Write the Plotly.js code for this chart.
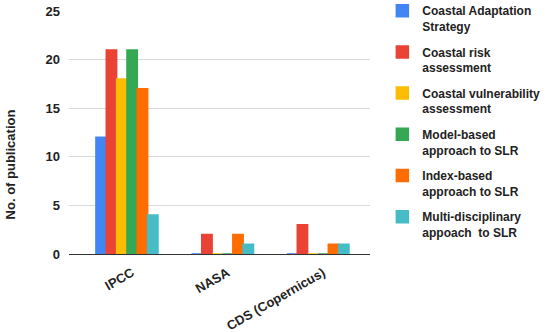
<!DOCTYPE html>
<html><head><meta charset="utf-8">
<script src="https://cdn.plot.ly/plotly-3.0.1.min.js"></script>
<style>html,body{margin:0;padding:0;background:#fff}#chart{width:550px;height:332px}</style>
</head><body><div id="chart"></div>
<script>
const categories = ["IPCC", "NASA", "CDS (Copernicus)"];
const seriesNames = [
  "Coastal Adaptation<br>Strategy",
  "Coastal risk<br>assessment",
  "Coastal vulnerability<br>assessment",
  "Model-based<br>approach to SLR",
  "Index-based<br>approach to SLR",
  "Multi-disciplinary<br>appoach  to SLR"
];
const adaptation = [12, 0, 0];
const risk = [21, 2, 3];
const vulnerability = [18, 0, 0];
const modelBased = [21, 0, 0];
const indexBased = [17, 2, 1];
const multiDisc = [4, 1, 1];
const yTicks = [0, 5, 10, 15, 20, 25];

const seriesValues = [adaptation, risk, vulnerability, modelBased, indexBased, multiDisc];
const colors = ["#4285F4", "#EA4335", "#FBBC04", "#34A853", "#FF6D01", "#46BDC6"];

const traces = seriesValues.map((v, i) => ({
  type: "bar",
  x: categories,
  y: v,
  name: seriesNames[i],
  legendgroup: "g" + i,
  marker: {color: colors[i], line: {color: colors[i], width: 1.5}}
}));

const font = {family: "Liberation Sans, Arial, sans-serif", size: 13, color: "#222"};
const layout = {
  width: 550, height: 332,
  margin: {l: 69, r: 180, t: 11, b: 78, autoexpand: false},
  paper_bgcolor: "#fff", plot_bgcolor: "#fff",
  font: font,
  barmode: "group", bargap: 0.35, bargroupgap: 0,
  showlegend: true,
  legend: {
    x: 1.041, xanchor: "left", y: 1.06, yanchor: "top",
    valign: "top", tracegroupgap: 7, traceorder: "grouped",
    font: {family: font.family, size: 12, color: "#222", weight: "bold"},
    itemwidth: 30, maxheight: 330
  },
  xaxis: {
    type: "category", range: [-0.607, 2.545],
    tickangle: -30, showgrid: false, showline: false, zeroline: false,
    tickfont: {family: font.family, size: 13, color: "#222", weight: "bold"},
    ticks: "", ticklabelstandoff: 8, ticklabelshift: 5
  },
  yaxis: {
    range: [0, 25], tickvals: yTicks, ticktext: yTicks.map(String),
    showgrid: true, gridcolor: "#d9d9d9", gridwidth: 1,
    zeroline: true, zerolinecolor: "#333", zerolinewidth: 1,
    showline: false, ticks: "", ticklabelstandoff: 8,
    tickfont: {family: font.family, size: 13, color: "#222", weight: "bold"}
  },
  annotations: [{
    text: "No. of publication", textangle: -90, showarrow: false,
    xref: "paper", yref: "paper", x: -0.195, y: 0.37,
    xanchor: "center", yanchor: "middle",
    font: {family: font.family, size: 13, color: "#222", weight: "bold"}
  }]
};
Plotly.newPlot("chart", traces, layout, {displayModeBar: false, staticPlot: true});
</script></body></html>
